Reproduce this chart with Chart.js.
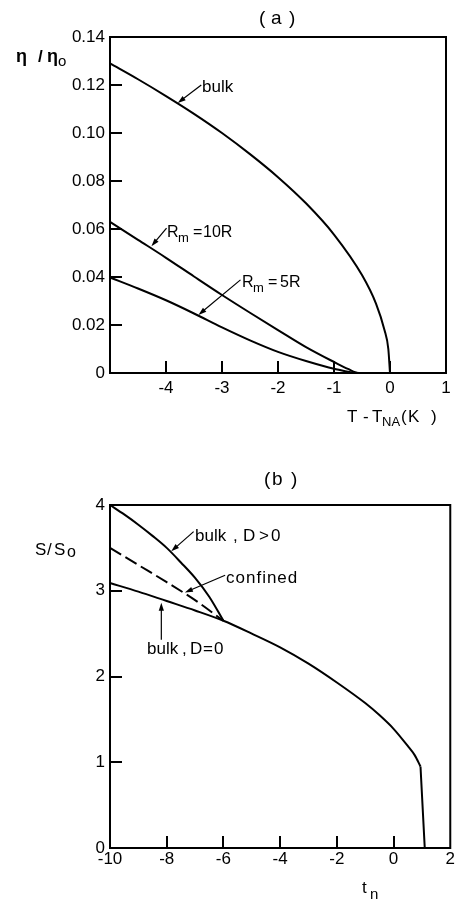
<!DOCTYPE html>
<html>
<head>
<meta charset="utf-8">
<script src="https://cdn.jsdelivr.net/npm/chart.js@4.4.1/dist/chart.umd.min.js"></script>
<style>
  body { margin: 0; background: #fff; width: 456px; height: 899px; overflow: hidden; position: relative; }
  canvas { position: absolute; left: 0; }
</style>
</head>
<body>
<canvas id="chartA" width="456" height="440" style="top:0"></canvas>
<canvas id="chartB" width="456" height="459" style="top:440px"></canvas>
<script>
// ---- panel (a): eta / eta0 vs T - T_NA ----
var tBulkA = [-5, -4.5, -4, -3.5, -3, -2.5, -2, -1.5, -1, -0.5, -0.25, -0.1, -0.03, 0];
var etaBulk = [0.129, 0.1224, 0.1154, 0.108, 0.1, 0.0912, 0.0816, 0.0707, 0.0577, 0.0408, 0.0289, 0.018, 0.01, 0];
var tR10 = [-5, -4.5, -4, -3.5, -3, -2.5, -2, -1.5, -1, -0.75, -0.55, 0];
var etaR10 = [0.063, 0.0555, 0.048, 0.0402, 0.0325, 0.0251, 0.0179, 0.0108, 0.0046, 0.0017, 0, 0];
var tR5 = [-5, -4.5, -4, -3.5, -3, -2.5, -2, -1.5, -1, -0.55, 0];
var etaR5 = [0.0398, 0.0352, 0.0303, 0.0248, 0.019, 0.0136, 0.0088, 0.005, 0.0018, 0, 0];
var aXTicks = [-4, -3, -2, -1, 0];
var aYTicks = [0.02, 0.04, 0.06, 0.08, 0.10, 0.12];

// ---- panel (b): S / S0 vs t_n ----
var tD0 = [-10, -9, -8, -7, -6, -5, -4, -3, -2, -1, -0.5, 0, 0.5, 0.75, 0.95];
var sD0 = [3.09, 2.99, 2.88, 2.77, 2.65, 2.5, 2.34, 2.15, 1.93, 1.69, 1.55, 1.39, 1.19, 1.08, 0.95];
var tDrop = [0.95, 1.1, 2];
var sDrop = [0.95, 0, 0];
var tDpos = [-10, -9.5, -9, -8.5, -8, -7.5, -7, -6.5, -6];
var sDpos = [4.0, 3.89, 3.77, 3.64, 3.5, 3.33, 3.15, 2.93, 2.65];
var tConf = [-10, -9, -8, -7, -6];
var sConf = [3.5, 3.3, 3.1, 2.89, 2.65];
var bXTicks = [-8, -6, -4, -2, 0];
var bYTicks = [1, 2, 3];

var ink = '#000';
var fam = '"Liberation Sans", Arial, sans-serif';
Chart.defaults.font.family = fam;
Chart.defaults.font.size = 17;
Chart.defaults.color = ink;

function pts(xs, ys) {
  return xs.map(function (x, i) { return { x: x, y: ys[i] }; });
}

function curve(xs, ys, dash, straight) {
  return {
    data: pts(xs, ys),
    borderColor: ink,
    borderWidth: 2,
    borderDash: dash || [],
    pointRadius: 0,
    cubicInterpolationMode: straight ? 'default' : 'monotone',
    tension: 0,
    clip: false
  };
}

function txt(ctx, s, x, y, size, bold) {
  ctx.font = (bold ? 'bold ' : '') + size + 'px ' + fam;
  ctx.fillStyle = ink;
  ctx.textAlign = 'left';
  ctx.textBaseline = 'alphabetic';
  ctx.fillText(s, x, y);
}

function arrow(ctx, x1, y1, x2, y2) {
  var a = Math.atan2(y2 - y1, x2 - x1), L = 8, W = 2.6;
  ctx.strokeStyle = ink;
  ctx.fillStyle = ink;
  ctx.lineWidth = 1.2;
  ctx.beginPath();
  ctx.moveTo(x1, y1);
  ctx.lineTo(x2 - L * 0.7 * Math.cos(a), y2 - L * 0.7 * Math.sin(a));
  ctx.stroke();
  ctx.beginPath();
  ctx.moveTo(x2, y2);
  ctx.lineTo(x2 - L * Math.cos(a) + W * Math.sin(a), y2 - L * Math.sin(a) - W * Math.cos(a));
  ctx.lineTo(x2 - L * Math.cos(a) - W * Math.sin(a), y2 - L * Math.sin(a) + W * Math.cos(a));
  ctx.closePath();
  ctx.fill();
}

// frame + inner tick marks + texts
function decor(xTicks, yTicks, extra) {
  return {
    id: 'decor',
    afterDraw: function (chart) {
      var ctx = chart.ctx, ca = chart.chartArea;
      var sx = chart.scales.x, sy = chart.scales.y;
      var X = function (v) { return sx.getPixelForValue(v); };
      var Y = function (v) { return sy.getPixelForValue(v); };
      ctx.save();
      ctx.setLineDash([]);
      ctx.strokeStyle = ink;
      ctx.fillStyle = ink;
      ctx.lineWidth = 2;
      ctx.strokeRect(ca.left, ca.top, ca.right - ca.left, ca.bottom - ca.top);
      xTicks.forEach(function (v) {
        ctx.fillRect(Math.round(X(v)) - 1, ca.bottom - 12, 2, 12);
      });
      yTicks.forEach(function (v) {
        ctx.fillRect(ca.left, Math.round(Y(v)) - 1, 12, 2);
      });
      extra(ctx, X, Y);
      ctx.restore();
    }
  };
}

function panel(id, cfg) {
  return new Chart(document.getElementById(id), {
    type: 'line',
    data: { datasets: cfg.datasets },
    options: {
      responsive: false,
      animation: false,
      devicePixelRatio: 1,
      layout: { padding: cfg.padding },
      plugins: { legend: { display: false }, tooltip: { enabled: false } },
      scales: {
        x: {
          type: 'linear', min: cfg.xMin, max: cfg.xMax,
          grid: { display: false, drawTicks: false },
          border: { display: false },
          ticks: { stepSize: cfg.xStep, padding: cfg.xPad, maxRotation: 0, autoSkip: false, callback: cfg.xFmt },
          afterFit: function (s) { s.height = cfg.xHeight; }
        },
        y: {
          type: 'linear', min: cfg.yMin, max: cfg.yMax,
          grid: { display: false, drawTicks: false },
          border: { display: false },
          ticks: { stepSize: cfg.yStep, padding: 5, autoSkip: false, callback: cfg.yFmt },
          afterFit: function (s) { s.width = 110; }
        }
      }
    },
    plugins: [cfg.plugin]
  });
}

panel('chartA', {
  datasets: [curve(tBulkA, etaBulk), curve(tR10, etaR10), curve(tR5, etaR5)],
  padding: { top: 37, right: 10, left: 0, bottom: 0 },
  xMin: -5, xMax: 1, xStep: 1, xPad: 5, xHeight: 67,
  xFmt: function (v) { return v === -5 ? '' : String(v); },
  yMin: 0, yMax: 0.14, yStep: 0.02,
  yFmt: function (v) { return Math.abs(v) < 1e-9 ? '0' : v.toFixed(2); },
  plugin: decor(aXTicks, aYTicks, function (ctx, X, Y) {
    txt(ctx, '(', 259, 24, 19); txt(ctx, 'a', 271, 24, 19); txt(ctx, ')', 289, 24, 19);
    txt(ctx, '\u03b7', 16, 62, 18, true); txt(ctx, '/', 38, 62, 17, true);
    txt(ctx, '\u03b7', 47, 62, 18, true); txt(ctx, 'o', 58, 66, 15);
    txt(ctx, 'T', 347, 422, 17); txt(ctx, '-', 363, 422, 17); txt(ctx, 'T', 372, 422, 17);
    txt(ctx, 'NA', 382, 426, 13); txt(ctx, '(', 401, 422, 17); txt(ctx, 'K', 408, 422, 17); txt(ctx, ')', 431, 422, 17);
    txt(ctx, 'bulk', 202, 92, 17);
    arrow(ctx, X(-3.37), Y(0.120), X(-3.79), Y(0.1125));
    txt(ctx, 'R', 167, 237, 16); txt(ctx, 'm', 178, 242, 13); txt(ctx, '=', 193, 237, 16); txt(ctx, '10R', 203, 237, 16);
    arrow(ctx, X(-3.99), Y(0.0604), X(-4.26), Y(0.0528));
    txt(ctx, 'R', 242, 287, 16); txt(ctx, 'm', 253, 292, 13); txt(ctx, '=', 268, 287, 16); txt(ctx, '5R', 280, 287, 16);
    arrow(ctx, X(-2.67), Y(0.0388), X(-3.42), Y(0.0242));
  })
});

var oy = 440; // page offset of panel (b)
panel('chartB', {
  datasets: [curve(tD0, sD0), curve(tDrop, sDrop, null, true), curve(tDpos, sDpos), curve(tConf, sConf, [13, 5])],
  padding: { top: 65, right: 4, left: 0, bottom: 0 },
  xMin: -10, xMax: 2, xStep: 2, xPad: 1, xHeight: 51,
  xFmt: function (v) { return String(v); },
  yMin: 0, yMax: 4, yStep: 1,
  yFmt: function (v) { return String(v); },
  plugin: decor(bXTicks, bYTicks, function (ctx, X, Y) {
    txt(ctx, '(', 264, 485 - oy, 19); txt(ctx, 'b', 272, 485 - oy, 19); txt(ctx, ')', 291, 485 - oy, 19);
    txt(ctx, 'S', 35, 555 - oy, 17); txt(ctx, '/', 47, 555 - oy, 17); txt(ctx, 'S', 54, 555 - oy, 17); txt(ctx, 'o', 67, 557 - oy, 16);
    txt(ctx, 't', 362, 893 - oy, 17); txt(ctx, 'n', 370, 899 - oy, 15);
    txt(ctx, 'bulk', 195, 541 - oy, 17); txt(ctx, ',', 233, 541 - oy, 17); txt(ctx, 'D', 243, 541 - oy, 17);
    txt(ctx, '>', 259, 541 - oy, 17); txt(ctx, '0', 271, 541 - oy, 17);
    arrow(ctx, X(-7.05), Y(3.69), X(-7.84), Y(3.46));
    ctx.letterSpacing = '1px';
    txt(ctx, 'confined', 226, 583 - oy, 17);
    ctx.letterSpacing = '0px';
    arrow(ctx, X(-5.94), Y(3.18), X(-7.36), Y(2.98));
    txt(ctx, 'bulk', 147, 654 - oy, 17); txt(ctx, ',', 182, 654 - oy, 17); txt(ctx, 'D', 190, 654 - oy, 17);
    txt(ctx, '=', 203, 654 - oy, 17); txt(ctx, '0', 214, 654 - oy, 17);
    arrow(ctx, X(-8.19), Y(2.43), X(-8.19), Y(2.86));
  })
});
</script>
</body>
</html>
